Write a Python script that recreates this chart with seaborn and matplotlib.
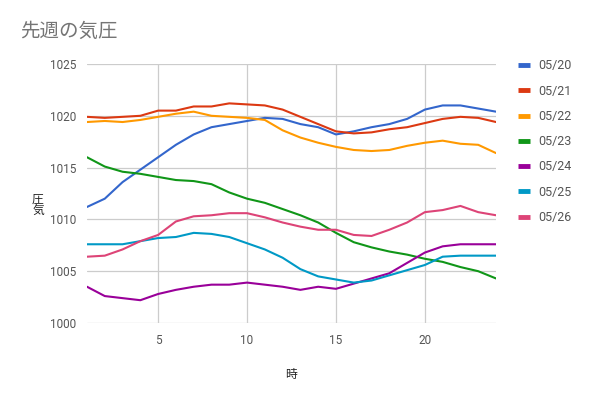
import numpy as np
import pandas as pd
import matplotlib
matplotlib.use("Agg")
import matplotlib.pyplot as plt
import seaborn as sns

hours = list(range(1, 25))
d0520 = [1011.2, 1012.0, 1013.6, 1014.8, 1016.0, 1017.2, 1018.2, 1018.9, 1019.2, 1019.5, 1019.8, 1019.7,
         1019.2, 1018.9, 1018.2, 1018.5, 1018.9, 1019.2, 1019.7, 1020.6, 1021.0, 1021.0, 1020.7, 1020.4]
d0521 = [1019.9, 1019.8, 1019.9, 1020.0, 1020.5, 1020.5, 1020.9, 1020.9, 1021.2, 1021.1, 1021.0, 1020.6,
         1019.9, 1019.2, 1018.5, 1018.3, 1018.4, 1018.7, 1018.9, 1019.3, 1019.7, 1019.9, 1019.8, 1019.4]
d0522 = [1019.4, 1019.5, 1019.4, 1019.6, 1019.9, 1020.2, 1020.4, 1020.0, 1019.9, 1019.8, 1019.6, 1018.6,
         1017.9, 1017.4, 1017.0, 1016.7, 1016.6, 1016.7, 1017.1, 1017.4, 1017.6, 1017.3, 1017.2, 1016.4]
d0523 = [1016.0, 1015.1, 1014.6, 1014.4, 1014.1, 1013.8, 1013.7, 1013.4, 1012.6, 1012.0, 1011.6, 1011.0,
         1010.4, 1009.7, 1008.7, 1007.8, 1007.3, 1006.9, 1006.6, 1006.2, 1005.9, 1005.4, 1005.0, 1004.3]
d0524 = [1003.5, 1002.6, 1002.4, 1002.2, 1002.8, 1003.2, 1003.5, 1003.7, 1003.7, 1003.9, 1003.7, 1003.5,
         1003.2, 1003.5, 1003.3, 1003.8, 1004.3, 1004.8, 1005.8, 1006.8, 1007.4, 1007.6, 1007.6, 1007.6]
d0525 = [1007.6, 1007.6, 1007.6, 1007.9, 1008.2, 1008.3, 1008.7, 1008.6, 1008.3, 1007.7, 1007.1, 1006.3,
         1005.2, 1004.5, 1004.2, 1003.9, 1004.1, 1004.6, 1005.1, 1005.6, 1006.4, 1006.5, 1006.5, 1006.5]
d0526 = [1006.4, 1006.5, 1007.1, 1007.9, 1008.5, 1009.8, 1010.3, 1010.4, 1010.6, 1010.6, 1010.2, 1009.7,
         1009.3, 1009.0, 1009.0, 1008.5, 1008.4, 1009.0, 1009.7, 1010.7, 1010.9, 1011.3, 1010.7, 1010.4]

series_names = ["05/20", "05/21", "05/22", "05/23", "05/24", "05/25", "05/26"]
series_vals = [d0520, d0521, d0522, d0523, d0524, d0525, d0526]
colors = ["#3366cc", "#dc3912", "#ff9900", "#109618", "#990099", "#0099c6", "#dd4477"]

title = "先週の気圧"
x_label = "時"
y_label = "圧\n気"
x_ticks = [5, 10, 15, 20]
y_ticks = [1000, 1005, 1010, 1015, 1020, 1025]

rows = []
for name, vals in zip(series_names, series_vals):
    for h, v in zip(hours, vals):
        rows.append({"時": h, "気圧": v, "日付": name})
df = pd.DataFrame(rows)

sns.set_style("white")
plt.rcParams["font.family"] = ["Roboto", "Noto Sans CJK JP", "DejaVu Sans"]

fig = plt.figure(figsize=(5.91, 3.97), dpi=100)
ax = fig.add_axes([87 / 591, 1 - 323 / 397, (496 - 87) / 591, (323 - 64) / 397])

sns.lineplot(data=df, x="時", y="気圧", hue="日付", palette=colors, linewidth=1.5,
             ax=ax, legend=True)

ax.set_xlim(1, 24)
ax.set_ylim(1000, 1025)
ax.set_xticks(x_ticks)
ax.set_yticks(y_ticks)
ax.grid(True, color="#cccccc", linewidth=0.9)
ax.set_axisbelow(True)
for s in ax.spines.values():
    s.set_visible(False)
ax.tick_params(axis="both", length=0, labelsize=8.5, labelcolor="#555555")
ax.tick_params(axis="x", pad=8)
ax.tick_params(axis="y", pad=8)

ax.set_xlabel(x_label, fontsize=8.5, color="#222222")
ax.xaxis.set_label_coords(0.5, -0.175)
ax.set_ylabel(y_label, fontsize=8.5, color="#222222", rotation=0, linespacing=0.95,
              va="center", ha="center")
ax.yaxis.set_label_coords(-0.12, 0.455)

fig.text(20 / 591, 1 - 32 / 397, title, fontsize=14, color="#757575", va="center", ha="left")

leg = ax.legend(loc="upper left", bbox_to_anchor=(1.041, 1.037), frameon=False, borderaxespad=0,
                fontsize=9, handlelength=1.0, handletextpad=0.65, labelspacing=0.98)
for t in leg.get_texts():
    t.set_color("#555555")
for l in leg.get_lines():
    l.set_linewidth(3.5)
    l.set_solid_capstyle("butt")

fig.savefig("out.png", dpi=100)
